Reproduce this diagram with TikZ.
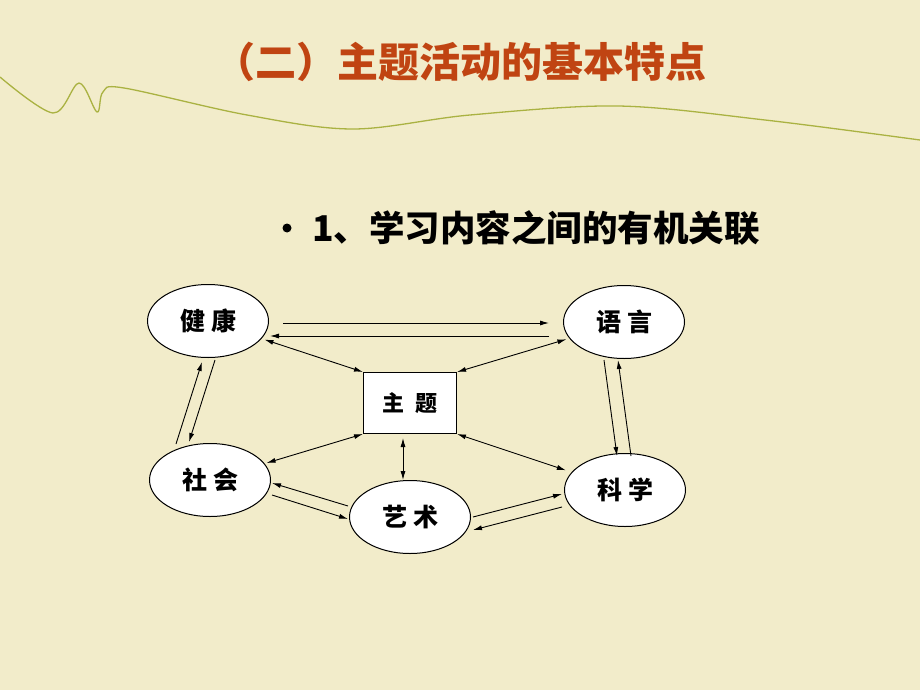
\documentclass[tikz,border=0pt]{standalone}
\usepackage{fontspec}
\newfontfamily\cjk{Noto Sans CJK SC}
\usetikzlibrary{shapes.geometric,arrows.meta}
\definecolor{slidebg}{RGB}{242,236,202}
\definecolor{titlered}{RGB}{192,68,18}
\definecolor{wave}{RGB}{170,178,66}

\begin{document}
\begin{tikzpicture}[x=1pt,y=-1pt,
font=\cjk,
topic/.style={ellipse,draw=black,fill=white,line width=1pt,inner sep=0pt,
  minimum width=121pt,minimum height=73pt,font=\cjk\bfseries\fontsize{25}{25}\selectfont},
theme/.style={rectangle,draw=black,fill=white,line width=1pt,
  minimum width=93pt,minimum height=61pt,font=\cjk\bfseries\fontsize{22}{22}\selectfont},
arrow/.style={-{Latex[length=9pt,width=5pt]},line width=0.9pt},
twoway/.style={{Latex[length=9pt,width=5pt]}-{Latex[length=9pt,width=5pt]},line width=0.9pt}
]
\fill[slidebg] (0,0) rectangle (920,690);
\useasboundingbox (0,0) rectangle (920,690);

% title and wave
\node[text=titlered,font=\cjk\bfseries\fontsize{41}{41}\selectfont] (title) at (460,62) {（二）主题活动的基本特点};
\draw[wave,line width=1.3pt] plot[smooth,tension=0.55] coordinates
  {(0,77) (53,113) (79,83) (97,112) (103,92) (124,88) (247,115) (353,129) (470,115) (618,106) (765,120) (920,140)};

\fill (287,228) circle (4.5pt);
\node[anchor=west,font=\cjk\bfseries\fontsize{35.5}{35.5}\selectfont,inner sep=0pt] (sub) at (312,228) {1、学习内容之间的有机关联};

% nodes
\node[topic] (jk) at (208,321) {健\hspace{6pt}康};
\node[topic] (yy) at (624,322) {语\hspace{6pt}言};
\node[theme] (zt) at (410,403) {主\hspace{12pt}题};
\node[topic] (sh) at (210,480) {社\hspace{6pt}会};
\node[topic] (ys) at (410,517) {艺\hspace{6pt}术};
\node[topic] (kx) at (625,490) {科\hspace{6pt}学};

% to and from the theme
\draw[twoway,shorten <=3pt] (jk) -- (zt.north west);
\draw[twoway,shorten <=3pt] (yy) -- (zt.north east);
\draw[twoway,shorten <=2pt] (sh) -- (zt.south west);
\draw[twoway] ([xshift=-7pt,yshift=-4pt]zt.south) -- ([xshift=-7pt]ys.north);
\draw[twoway,shorten <=6pt] (kx) -- (zt.south east);

% pairs between the fields
\draw[arrow] ([yshift=-2pt]jk.east) ++(14,0) -- ([xshift=-14pt,yshift=-1pt]yy.west);
\draw[arrow] ([xshift=-14pt,yshift=-14pt]yy.west) -- ([xshift=1pt,yshift=-15pt]jk.east);
\draw[arrow] ([xshift=-34pt,yshift=-1pt]sh.north) -- ([xshift=-6pt,yshift=-4pt]jk.south);
\draw[arrow] ([xshift=7pt,yshift=-2pt]jk.south) -- ([xshift=-21pt,yshift=1pt]sh.north);
\draw[arrow] ([xshift=-20pt,yshift=-1pt]yy.south) -- ([xshift=-8pt,yshift=-3pt]kx.north);
\draw[arrow] ([xshift=6pt,yshift=-3pt]kx.north) -- ([xshift=-6pt,yshift=-1pt]yy.south);
\draw[arrow] ([xshift=-1pt,yshift=11pt]ys.west) -- ([xshift=1pt,yshift=-3pt]sh.east);
\draw[arrow] ([xshift=1pt,yshift=-15pt]sh.east) -- ([xshift=-1pt,yshift=-2pt]ys.west);
\draw[arrow] ([xshift=2pt]ys.east) -- ([xshift=-2pt,yshift=-4pt]kx.west);
\draw[arrow] ([xshift=-2pt,yshift=-17pt]kx.west) -- ([xshift=2pt,yshift=-13pt]ys.east);
\end{tikzpicture}
\end{document}
